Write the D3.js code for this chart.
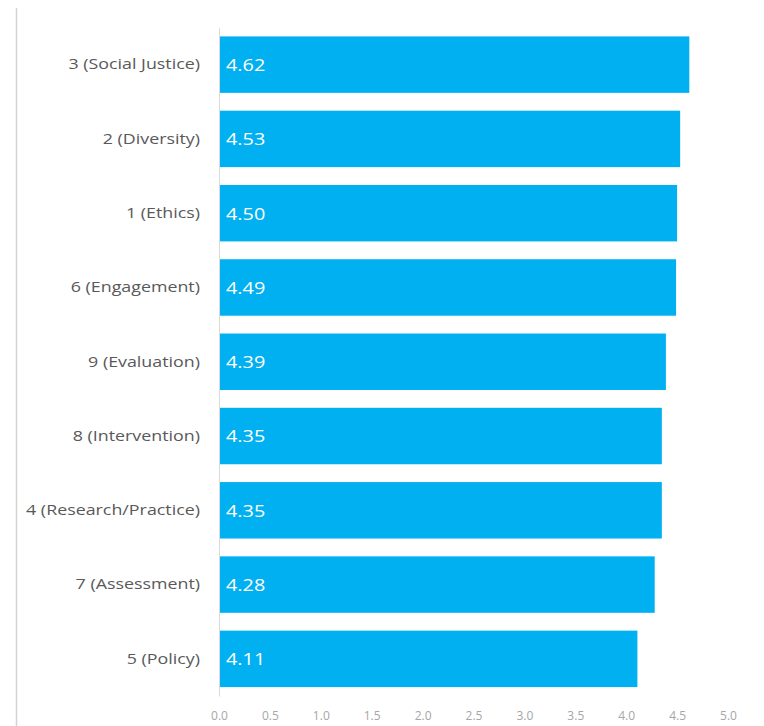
<!DOCTYPE html>
<html>
<head>
<meta charset="utf-8">
<script src="https://cdn.jsdelivr.net/npm/d3@7"></script>
<style>
  html, body { margin: 0; padding: 0; background: #fff; }
  svg { display: block; font-family: "Open Sans", sans-serif; }
</style>
</head>
<body>
<svg id="chart" width="764" height="726"></svg>
<script>
// Mean rating per competency, highest first
const categories = [
  "3 (Social Justice)",
  "2 (Diversity)",
  "1 (Ethics)",
  "6 (Engagement)",
  "9 (Evaluation)",
  "8 (Intervention)",
  "4 (Research/Practice)",
  "7 (Assessment)",
  "5 (Policy)"
];
const values = [4.62, 4.53, 4.50, 4.49, 4.39, 4.35, 4.35, 4.28, 4.11];
const xTicks = [0, 0.5, 1, 1.5, 2, 2.5, 3, 3.5, 4, 4.5, 5];

const svg = d3.select("#chart");
const font = "'Open Sans', sans-serif";
const labelStretch = 1.19;   // widened category labels
const valueStretch = 1.28;   // widened value labels

// frame line on the left edge
svg.append("line")
  .attr("x1", 16.5).attr("x2", 16.5)
  .attr("y1", 8).attr("y2", 726)
  .attr("stroke", "#d4d4d4").attr("stroke-width", 1.5);

const x = d3.scaleLinear().domain([0, 5]).range([219, 728]);
const y = d3.scaleBand().domain(categories).range([27.5, 696])
  .paddingInner(0.24).paddingOuter(0.12);

// bars
svg.append("g").selectAll("rect")
  .data(values)
  .join("rect")
  .attr("x", x(0))
  .attr("y", (d, i) => y(categories[i]))
  .attr("width", d => x(d) - x(0))
  .attr("height", y.bandwidth())
  .attr("fill", "#00b0f0");

// value labels inside the bars
svg.append("g").selectAll("text")
  .data(values)
  .join("text")
  .attr("transform", (d, i) =>
    `translate(${x(0) + 7},${y(categories[i]) + y.bandwidth() / 2 + 1}) scale(${valueStretch},1)`)
  .attr("dy", "0.35em")
  .attr("fill", "#ffffff")
  .attr("font-size", 15.5)
  .attr("font-family", font)
  .text(d => d.toFixed(2));

// category axis
const yAxis = svg.append("g")
  .attr("transform", `translate(${x(0)},0)`)
  .call(d3.axisLeft(y).tickSize(0).tickPadding(19));
yAxis.select(".domain").attr("stroke", "#d9d9d9").attr("stroke-width", 1);
yAxis.selectAll(".tick text")
  .attr("x", -19 / labelStretch)
  .attr("transform", `scale(${labelStretch},1)`)
  .attr("fill", "#595959")
  .attr("font-size", 15)
  .attr("font-family", font);

// value axis labels (no axis line)
const xAxis = svg.append("g")
  .attr("transform", "translate(0,708)")
  .call(d3.axisBottom(x).tickValues(xTicks).tickFormat(d3.format(".1f")).tickSize(0));
xAxis.select(".domain").remove();
xAxis.selectAll("text")
  .attr("fill", "#a6a6a6")
  .attr("font-size", 12)
  .attr("font-family", font);
</script>
</body>
</html>
